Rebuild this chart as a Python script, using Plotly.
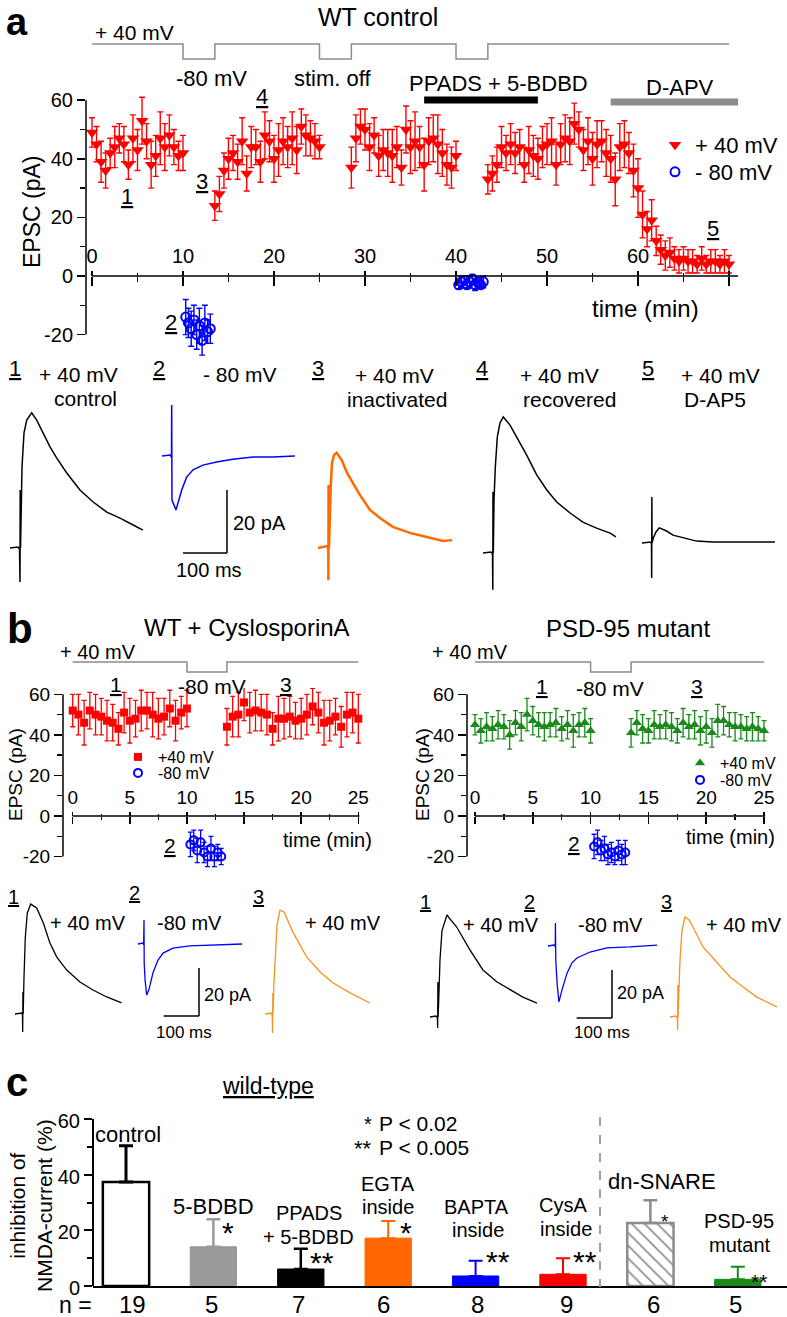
import plotly.graph_objects as go

W, H = 787, 1317
FONT = "Liberation Sans, Arial, Helvetica, sans-serif"


def PX(x):
    return x / W


def PY(y):
    return 1 - y / H


# ====================== DATA ======================
# ---- panel a : WT control, EPSC amplitude (pA) vs time (min) ----
a_pos_t1 = [0, 0.5, 1, 1.5, 2, 2.5, 3, 3.5, 4, 4.5, 5, 5.5, 6, 6.5, 7, 7.5, 8, 8.5, 9, 9.5, 10]
a_pos_v1 = [49, 45, 39, 36, 42, 44, 47, 45, 38, 47, 43, 53, 46, 38, 41, 47, 44, 48, 44, 41, 42]
a_pos_e1 = [5, 6, 7, 6, 5, 7, 5, 6, 5, 8, 7, 8, 6, 8, 7, 9, 8, 7, 6, 5, 6]
a_pos_t2 = [13.5, 14, 14.5, 15, 15.5, 16, 16.5, 17, 17.5, 18, 18.5, 19, 19.5, 20, 20.5, 21, 21.5, 22,
            22.5, 23, 23.5, 24, 24.5, 25]
a_pos_v2 = [24, 28, 36, 40, 42, 39, 46, 35, 44, 44, 39, 48, 46, 40, 43, 46, 44, 47, 43, 51, 48, 47, 46, 44]
a_pos_e2 = [5, 6, 6, 7, 6, 6, 8, 6, 7, 6, 7, 8, 7, 8, 9, 8, 7, 9, 8, 6, 7, 6, 6, 4]
a_pos_t3 = [28.5, 29, 29.5, 30, 30.5, 31, 31.5, 32, 32.5, 33, 33.5, 34, 34.5, 35, 35.5, 36, 36.5, 37,
            37.5, 38, 38.5, 39, 39.5, 40]
a_pos_v3 = [37, 47, 51, 50, 44, 48, 41, 43, 42, 41, 44, 37, 50, 44, 46, 44, 38, 46, 47, 45, 42, 38, 37, 41]
a_pos_e3 = [7, 8, 6, 7, 8, 6, 7, 7, 8, 9, 7, 6, 8, 9, 10, 7, 9, 8, 8, 10, 8, 7, 7, 5]
a_pos_t4 = [43.5, 44, 44.5, 45, 45.5, 46, 46.5, 47, 47.5, 48, 48.5, 49, 49.5, 50, 50.5, 51, 51.5, 52,
            52.5, 53, 53.5, 54, 54.5, 55, 55.5, 56, 56.5, 57, 57.5, 58, 58.5, 59, 59.5, 60, 60.5, 61,
            61.5, 62, 62.5, 63, 63.5, 64, 64.5, 65, 65.5, 66, 66.5, 67, 67.5, 68, 68.5, 69, 69.5, 70]
a_pos_v4 = [33, 35, 38, 44, 42, 45, 42, 44, 38, 43, 41, 40, 44, 45, 46, 38, 45, 47, 46, 52,
            50, 43, 46, 40, 45, 46, 42, 40, 33, 44, 45, 42, 36, 30, 21, 16, 19, 12, 9, 7,
            8, 6, 5, 6, 5, 5, 4, 6, 4, 5, 5, 4, 5, 4]
a_pos_e4 = [5, 6, 6, 7, 6, 7, 7, 6, 6, 8, 7, 7, 7, 7, 8, 7, 7, 8, 8, 7,
            6, 7, 8, 9, 8, 7, 8, 8, 9, 8, 8, 7, 9, 10, 8, 6, 7, 5, 5, 5,
            5, 4, 4, 4, 4, 4, 3, 4, 3, 4, 4, 3, 4, 3]
a_neg_t = [10.3, 10.6, 10.9, 11.2, 11.5, 11.8, 12.1, 12.4, 12.7, 13.0,
           40.3, 40.6, 40.9, 41.2, 41.5, 41.8, 42.1, 42.4, 42.7, 43.0]
a_neg_v = [-14, -16, -18, -15, -20, -17, -22, -16, -19, -18,
           -3, -2, -1.5, -3, -2, -1, -3, -2, -3, -2]
a_neg_e = [6, 5, 6, 5, 5, 6, 5, 6, 4, 5, 1.5, 2, 1.5, 1, 2, 1.5, 2, 1.5, 1, 2]

a_prot_t = [0, 10, 13.5, 25, 28.5, 40, 43.5, 70]      # holding-potential protocol (min)
a_prot_v = [40, -80, 40, -80, 40, -80, 40, 40]        # mV
drug_names = ["PPADS + 5-BDBD", "D-APV"]
drug_start = [36.5, 57.0]
drug_end = [49.0, 71.0]

# example traces, panel a (time in ms, current in pA)
a_tr1_t = [0, 18, 21.6, 22.7, 23.2, 23.9, 27.3, 31.8, 38, 49.3, 60.7, 75.7, 90.9, 106, 129, 159, 189, 220, 250, 280, 302]
a_tr1_v = [0, 0.3, -0.3, -10.8, 18.4, 0, 25.7, 36.5, 40.6, 42.9, 40.6, 36.5, 32.1, 28.6, 23.8, 18.4, 14.6, 11.4, 9.5, 7.3, 5.7]
a_tr2_t = [0, 18.2, 21.6, 22, 22.7, 31.8, 44.8, 56, 70.5, 93, 124, 161, 207, 252, 302]
a_tr2_v = [0, 0.3, -0.3, 16.2, -14, -17.1, -10.8, -6.7, -4.4, -2.9, -1.9, -1, -0.3, -0.3, 0]
a_tr3_t = [0, 20.5, 23.4, 23.6, 24, 25, 28.9, 31.8, 36.4, 42.5, 53.9, 65.2, 79.5, 95.5, 118, 141, 170, 209, 247, 284, 305]
a_tr3_v = [0, 0.6, -0.3, -10.2, 20, 0, 19.4, 27, 29.5, 30.2, 27.9, 24.1, 20.6, 16.8, 12.1, 9.5, 6.7, 4.8, 3.5, 2.2, 2.5]
a_tr4_t = [0, 18.2, 21.6, 22.3, 22.7, 23.4, 25, 28, 32.5, 38.6, 46.1, 61.4, 76.6, 99.3, 122, 145, 167.5, 198, 227, 258, 289, 302]
a_tr4_v = [0, 0.3, -0.3, -11.7, 19.4, 0, 16.8, 27.3, 36.8, 41.3, 43.2, 40.6, 36.8, 31.1, 24.8, 20, 16.2, 12.7, 9.8, 7.9, 6.3, 5.1]
a_tr5_t = [0, 20.5, 21.6, 22, 22.4, 22.8, 25.7, 31.8, 39.3, 56, 70.5, 93, 124, 161, 223, 302]
a_tr5_v = [0, 0.3, -0.3, -11.1, 14.6, 0, 1.6, 3.5, 4.8, 3.8, 2.5, 1.6, 0.6, 0.3, 0.3, 0.3]

# ---- panel b : WT + CyclosporinA (left) and PSD-95 mutant (right) ----
b_t_pre = [0, 0.5, 1, 1.5, 2, 2.5, 3, 3.5, 4, 4.5, 5, 5.5, 6, 6.5, 7, 7.5, 8, 8.5, 9, 9.5, 10]
b_t_post = [13.5, 14, 14.5, 15, 15.5, 16, 16.5, 17, 17.5, 18, 18.5, 19, 19.5, 20, 20.5, 21, 21.5, 22,
            22.5, 23, 23.5, 24, 24.5, 25]
b_t_neg = [10.3, 10.6, 10.9, 11.2, 11.5, 11.8, 12.1, 12.4, 12.7, 13.0]

bL_v_pre = [52, 50, 46, 52, 50, 49, 47, 46, 43, 51, 47, 48, 52, 52, 50, 48, 49, 53, 47, 51, 53]
bL_e_pre = [8, 10, 11, 9, 10, 9, 10, 9, 8, 10, 11, 9, 10, 9, 11, 10, 9, 9, 10, 8, 9]
bL_v_post = [44, 49, 50, 56, 51, 52, 51, 50, 43, 48, 48, 49, 47, 48, 50, 54, 51, 46, 47, 49, 44, 50, 51, 48]
bL_e_post = [9, 10, 11, 9, 10, 10, 9, 10, 8, 11, 10, 10, 9, 10, 10, 9, 10, 11, 10, 9, 10, 11, 10, 12]
bL_v_neg = [-14, -12, -17, -13, -18, -20, -16, -20, -18, -20]
bL_e_neg = [6, 5, 6, 6, 5, 5, 6, 5, 4, 4]

bR_v_pre = [45, 42, 44, 43, 45, 44, 40, 46, 44, 50, 47, 45, 44, 45, 46, 43, 45, 42, 45, 46, 42]
bR_e_pre = [5, 6, 7, 6, 7, 6, 7, 6, 7, 8, 7, 6, 7, 6, 7, 6, 7, 8, 6, 7, 6]
bR_v_post = [41, 46, 43, 42, 45, 44, 45, 44, 42, 46, 44, 45, 42, 44, 41, 47, 47, 45, 44, 44, 43, 44, 43, 42]
bR_e_post = [7, 6, 7, 6, 7, 6, 7, 7, 6, 7, 6, 7, 7, 8, 7, 8, 7, 6, 7, 6, 6, 7, 6, 5]
bR_v_neg = [-15, -13, -17, -16, -19, -18, -20, -17, -19, -18]
bR_e_neg = [6, 6, 5, 6, 5, 5, 4, 5, 5, 6]

b_prot_t = [0, 10, 13.5, 25]
b_prot_v = [40, -80, 40, 40]

bL_tr1_t = [0, 19, 21.2, 21.8, 22.4, 23.2, 25.5, 29.2, 34.8, 44.5, 61.5, 80.2, 99, 118, 146.5, 184, 221, 260, 302]
bL_tr1_v = [0, 0.4, -0.4, -7.5, 9.2, 0, 15.4, 32, 42, 45.8, 44.2, 37.9, 29.6, 23.8, 18.3, 13.3, 10, 7.1, 4.6]
bL_tr2_t = [0, 14, 16, 17, 17.6, 20, 24.6, 31, 42.5, 56.7, 71, 99, 147, 224, 295]
bL_tr2_v = [0, 0.4, -0.3, 10, -8, -15, -21.3, -19, -12, -6.7, -3.8, -1.7, -0.8, -0.4, 0]
bL_tr3_t = [0, 17, 20.5, 21.5, 22.2, 23, 25, 28.3, 34, 42.5, 54, 80, 118, 156, 193, 241, 297]
bL_tr3_v = [0, 0.4, -0.8, -7.9, 8.8, 0, 12, 22.5, 37, 43.3, 42.5, 33.8, 23.8, 17.5, 12.9, 8.8, 4.6]
bR_tr1_t = [0, 17, 21, 21.7, 22.3, 23, 25, 28.3, 34, 48, 59.5, 75.6, 113, 150, 190, 227, 263, 303]
bR_tr1_v = [0, 0.4, -0.4, -4.6, 14.6, 0, 8, 23.8, 36, 42.5, 40.4, 37.5, 28, 19.6, 14.6, 11.3, 8.3, 5.8]
bR_tr2_t = [0, 17, 20.5, 21, 22, 26, 31, 39.7, 54, 68, 82, 119, 167, 232, 309]
bR_tr2_v = [0, 0.4, -0.3, 9.6, -5.8, -16, -23.3, -18.3, -11.3, -7, -5, -2.5, -0.8, -0.4, 0.4]
bR_tr3_t = [0, 17, 21, 21.7, 22.3, 23, 25, 28.3, 34, 42.5, 54, 65, 93.5, 133, 170, 207, 246, 303]
bR_tr3_v = [0, 0.4, -0.8, -5.4, 13.3, 0, 10, 23.8, 36, 41.7, 40.4, 37.5, 29.2, 22.5, 16.7, 12.5, 8.3, 4.2]

SCALE_MS = 100
SCALE_PA = 20

# ---- panel c : inhibition of NMDA current (%) ----
c_cats = ["control", "5-BDBD", "PPADS + 5-BDBD", "EGTA inside", "BAPTA inside", "CysA inside",
          "dn-SNARE", "PSD-95 mutant"]
c_mean = [37.4, 14.1, 6.1, 17.2, 3.6, 4.2, 22.6, 2.4]
c_sem = [13.0, 9.9, 7.3, 6.2, 5.5, 5.8, 8.2, 4.5]
c_n = [19, 5, 7, 6, 8, 9, 6, 5]
c_sig = ["", "*", "**", "*", "**", "**", "*", "**"]

# ====================== FIGURE ======================
RED, BLUE, GREEN = "#ff0000", "#0000ff", "#1a8a1a"
ORANGE_A, ORANGE_B = "#ff6a00", "#f7941d"

fig = go.Figure()
LAY = {}
ANN = []
SHP = []


def txt(s, x, y, size, angle=0, xanchor="center", **kw):
    d = dict(text=s, x=PX(x), y=PY(y), xref="paper", yref="paper", showarrow=False,
             font=dict(size=size, family=FONT, color="black"), xanchor=xanchor,
             yanchor="middle", textangle=angle)
    d.update(kw)
    ANN.append(d)


def seg(x0, y0, x1, y1, xref, yref, color="black", width=1.5, dash="solid"):
    SHP.append(dict(type="line", x0=x0, y0=y0, x1=x1, y1=y1, xref=xref, yref=yref,
                    line=dict(color=color, width=width, dash=dash)))


AX = dict(showgrid=False, zeroline=False, showline=False, color="black")


def time_axes(xid, yid, pid, ovid, dom_l, dom_r, x0px, sx, y_top, y_bot, y0px, sy,
              p_top, p_bot, p_hi_px, p_lo_px, major, minor, tick_font, len_up, len_dn):
    LAY["xaxis" + xid] = dict(AX, domain=[PX(dom_l), PX(dom_r)],
                              range=[(dom_l - x0px) / sx, (dom_r - x0px) / sx],
                              anchor="free", position=PY(y0px), side="top",
                              ticks="outside", ticklen=len_up, tickwidth=1.5, tickcolor="black",
                              tickmode="array", tickvals=major[0], ticktext=major[1],
                              minor=dict(tickmode="array", tickvals=minor, ticks="outside",
                                         ticklen=max(2, len_up - 2), tickwidth=1.5, tickcolor="black"),
                              tickfont=dict(size=tick_font, family=FONT, color="black"))
    LAY["xaxis" + ovid] = dict(AX, overlaying="x" + xid,
                               range=[(dom_l - x0px) / sx, (dom_r - x0px) / sx],
                               anchor="free", position=PY(y0px), side="bottom",
                               ticks="outside", ticklen=len_dn, tickwidth=1.5, tickcolor="black",
                               tickmode="array", tickvals=major[0], showticklabels=False,
                               minor=dict(tickmode="array", tickvals=minor, ticks="outside",
                                          ticklen=max(2, len_dn - 4), tickwidth=1.5, tickcolor="black"))
    LAY["yaxis" + yid] = dict(AX, domain=[PY(y_bot), PY(y_top)],
                              range=[(y0px - y_bot) / sy, (y0px - y_top) / sy],
                              anchor="x" + xid, ticks="outside", ticklen=8, tickwidth=1.5,
                              tickcolor="black", tickmode="array",
                              tickvals=[-20, 0, 20, 40, 60], ticktext=["-20", "0", "20", "40", "60"],
                              minor=dict(tickmode="array", tickvals=[-10, 10, 30, 50], ticks="outside",
                                         ticklen=5, tickwidth=1.5, tickcolor="black"),
                              tickfont=dict(size=tick_font, family=FONT, color="black"))
    ps = (p_lo_px - p_hi_px) / 120.0
    LAY["yaxis" + pid] = dict(AX, domain=[PY(p_bot), PY(p_top)],
                              range=[-80 - (p_bot - p_lo_px) / ps, 40 + (p_hi_px - p_top) / ps],
                              anchor="x" + xid, visible=False)
    fig.add_trace(go.Scatter(x=[], y=[], xaxis="x" + ovid, yaxis="y" + yid,
                             showlegend=False, hoverinfo="skip"))


# ---------- panel a time course ----------
time_axes("", "", "2", "8", 86, 745, 92, 9.1, 90, 360, 276, 2.93,
          40, 64, 44, 59,
          ([0, 10, 20, 30, 40, 50, 60, 70], ["0", "10", "20", "30", "40", "50", "60", ""]),
          [5, 15, 25, 35, 45, 55, 65], 20, 5, 9)
fig.add_trace(go.Scatter(x=a_prot_t, y=a_prot_v, mode="lines", line=dict(color="#8c8c8c", width=1.5, shape="hv"),
                         xaxis="x", yaxis="y2", showlegend=False, hoverinfo="skip"))
fig.add_trace(go.Scatter(x=a_pos_t1 + a_pos_t2 + a_pos_t3 + a_pos_t4,
                         y=a_pos_v1 + a_pos_v2 + a_pos_v3 + a_pos_v4, mode="markers", name="+ 40 mV",
                         marker=dict(symbol="triangle-down", size=11, color=RED),
                         error_y=dict(type="data", array=a_pos_e1 + a_pos_e2 + a_pos_e3 + a_pos_e4,
                                      color=RED, thickness=1.4, width=3),
                         xaxis="x", yaxis="y", legend="legend", hoverinfo="skip"))
fig.add_trace(go.Scatter(x=a_neg_t, y=a_neg_v, mode="markers", name="- 80 mV",
                         marker=dict(symbol="circle-open", size=9, color=BLUE, line=dict(width=2, color=BLUE)),
                         error_y=dict(type="data", array=a_neg_e, color=BLUE, thickness=1.4, width=3),
                         xaxis="x", yaxis="y", legend="legend2", hoverinfo="skip"))
seg(0, 0, 71, 0, "x", "y")
seg(0, -20, 0, 60, "x domain", "y")
for name, t0, t1, ypx, col in zip(drug_names, drug_start, drug_end, [100, 102], ["black", "#8c8c8c"]):
    seg(t0, PY(ypx), t1, PY(ypx), "x", "paper", color=col, width=7)

txt("<b>a</b>", 17, 22, 38)
txt("WT control", 378, 17, 25)
txt("+ 40 mV", 134, 33, 21)
txt("-80 mV", 211, 78, 22)
txt("stim. off", 333, 78, 22)
txt(drug_names[0], 498, 83, 22)
txt(drug_names[1], 680, 87, 22)
txt("time (min)", 645, 308, 24)
txt("EPSC (pA)", 32, 212, 23, angle=-90)
txt("<u>1</u>", 127, 196, 22)
txt("<u>3</u>", 202, 181, 22)
txt("<u>4</u>", 262, 97, 22)
txt("<u>2</u>", 171, 322, 22)
txt("<u>5</u>", 713, 228, 22)

# ---------- panel b time courses ----------
b_major = ([0, 5, 10, 15, 20, 25], ["0", "5", "10", "15", "20", "25"])
b_minor = [2.5, 7.5, 12.5, 17.5, 22.5]
time_axes("3", "3", "4", "9", 63, 372, 72.7, 11.424, 688, 874, 816, 2.028,
          655, 680, 662, 672, b_major, b_minor, 19, 4, 7)
time_axes("5", "5", "6", "10", 467, 782, 475, 11.56, 688, 874, 816, 2.028,
          655, 680, 662, 672, b_major, b_minor, 19, 4, 7)

for xa, ya, pa, legs, vpre, epre, vpost, epost, vneg, eneg, sym, col, sz in [
        ("x3", "y3", "y4", ("legend3", "legend4"), bL_v_pre, bL_e_pre, bL_v_post, bL_e_post,
         bL_v_neg, bL_e_neg, "square", RED, 8),
        ("x5", "y5", "y6", ("legend5", "legend6"), bR_v_pre, bR_e_pre, bR_v_post, bR_e_post,
         bR_v_neg, bR_e_neg, "triangle-up", GREEN, 9)]:
    fig.add_trace(go.Scatter(x=b_prot_t, y=b_prot_v, mode="lines",
                             line=dict(color="#8c8c8c", width=1.5, shape="hv"),
                             xaxis=xa, yaxis=pa, showlegend=False, hoverinfo="skip"))
    fig.add_trace(go.Scatter(x=b_t_pre + b_t_post, y=vpre + vpost, mode="markers", name="+40 mV",
                             marker=dict(symbol=sym, size=sz, color=col),
                             error_y=dict(type="data", array=epre + epost, color=col, thickness=1.3, width=2.5),
                             xaxis=xa, yaxis=ya, legend=legs[0], hoverinfo="skip"))
    fig.add_trace(go.Scatter(x=b_t_neg, y=vneg, mode="markers", name="-80 mV",
                             marker=dict(symbol="circle-open", size=8, color=BLUE, line=dict(width=2, color=BLUE)),
                             error_y=dict(type="data", array=eneg, color=BLUE, thickness=1.3, width=2.5),
                             xaxis=xa, yaxis=ya, legend=legs[1], hoverinfo="skip"))
    seg(0, 0, 25.1, 0, xa, ya)
    seg(0, -20, 0, 60, xa + " domain", ya)

txt("<b>b</b>", 20, 628, 42)
txt("WT + CyslosporinA", 247, 627, 24)
txt("+ 40 mV", 98, 652, 20)
txt("<u>1</u>", 116, 684, 21)
txt("-80 mV", 212, 686, 21)
txt("<u>3</u>", 286, 684, 21)
txt("EPSC (pA)", 15, 775, 19, angle=-90)
txt("time (min)", 327, 840, 20)
txt("<u>2</u>", 170, 845, 21)
txt("PSD-95 mutant", 628, 628, 24)
txt("+ 40 mV", 470, 652, 20)
txt("<u>1</u>", 542, 686, 21)
txt("-80 mV", 610, 688, 21)
txt("<u>3</u>", 697, 686, 21)
txt("EPSC (pA)", 422, 775, 19, angle=-90)
txt("time (min)", 730, 837, 20)
txt("<u>2</u>", 574, 843, 21)

# ---------- example current traces ----------
axis_counter = [11]


def wave(t, v, x0, y0, sx, sy, color, width):
    n = axis_counter[0]
    axis_counter[0] += 1
    wpx = min(150, W - x0)
    LAY["xaxis%d" % n] = dict(AX, domain=[PX(x0 - 4), PX(x0 + wpx)], range=[-4 / sx, wpx / sx],
                              anchor="y%d" % n, visible=False)
    LAY["yaxis%d" % n] = dict(AX, domain=[PY(y0 + 110), PY(y0 - 150)], range=[-110 / sy, 150 / sy],
                              anchor="x%d" % n, visible=False)
    fig.add_trace(go.Scatter(x=t, y=v, mode="lines", line=dict(color=color, width=width),
                             xaxis="x%d" % n, yaxis="y%d" % n, showlegend=False, hoverinfo="skip"))
    return n


SXA, SYA = 0.44, 3.15
wave(a_tr1_t, a_tr1_v, 10, 548, SXA, SYA, "black", 1.5)
na2 = wave(a_tr2_t, a_tr2_v, 162, 456, SXA, SYA, BLUE, 1.5)
wave(a_tr3_t, a_tr3_v, 318, 548, SXA, SYA, ORANGE_A, 2.5)
wave(a_tr4_t, a_tr4_v, 483, 553, SXA, SYA, "black", 1.5)
wave(a_tr5_t, a_tr5_v, 642, 543, SXA, SYA, "black", 1.5)

SXB, SYB = 0.353, 2.4
wave(bL_tr1_t, bL_tr1_v, 15, 1014, SXB, SYB, "black", 1.3)
nb2 = wave(bL_tr2_t, bL_tr2_v, 138, 944, SXB, SYB, BLUE, 1.3)
wave(bL_tr3_t, bL_tr3_v, 265, 1014, SXB, SYB, ORANGE_B, 1.3)
wave(bR_tr1_t, bR_tr1_v, 430, 1017, SXB, SYB, "black", 1.3)
nc2 = wave(bR_tr2_t, bR_tr2_v, 548, 946, SXB, SYB, BLUE, 1.3)
wave(bR_tr3_t, bR_tr3_v, 670, 1017, SXB, SYB, ORANGE_B, 1.3)

# scale bars (bottom-right corner given in the blue trace's own ms / pA units)
for n, cx, cy in [(na2, 147.7, -30.8), (nb2, 172.8, -30.0), (nc2, 181.3, -30.0)]:
    seg(cx - SCALE_MS, cy, cx, cy, "x%d" % n, "y%d" % n, width=1.5)
    seg(cx, cy, cx, cy + SCALE_PA, "x%d" % n, "y%d" % n, width=1.5)

txt("<u>1</u>", 15, 368, 22)
txt("+ 40 mV", 78, 374, 21)
txt("control", 85, 398, 21)
txt("<u>2</u>", 159, 368, 22)
txt("- 80 mV", 240, 374, 21)
txt("<u>3</u>", 318, 368, 22)
txt("+ 40 mV", 394, 375, 21)
txt("inactivated", 397, 399, 21)
txt("<u>4</u>", 482, 368, 22)
txt("+ 40 mV", 559, 375, 21)
txt("recovered", 569, 399, 21)
txt("<u>5</u>", 648, 368, 22)
txt("+ 40 mV", 720, 375, 21)
txt("D-AP5", 715, 399, 21)
txt("%d pA" % SCALE_PA, 259, 523, 20)
txt("%d ms" % SCALE_MS, 209, 570, 20)

txt("<u>1</u>", 13, 897, 20)
txt("+ 40 mV", 88, 923, 20)
txt("<u>2</u>", 134, 893, 20)
txt("-80 mV", 189, 923, 20)
txt("<u>3</u>", 258, 897, 20)
txt("+ 40 mV", 343, 923, 20)
txt("%d pA" % SCALE_PA, 227, 995, 18)
txt("%d ms" % SCALE_MS, 184, 1032, 17)
txt("<u>1</u>", 425, 902, 20)
txt("+ 40 mV", 501, 925, 20)
txt("<u>2</u>", 529, 902, 20)
txt("-80 mV", 610, 925, 20)
txt("<u>3</u>", 666, 902, 20)
txt("+ 40 mV", 744, 925, 20)
txt("%d pA" % SCALE_PA, 640, 993, 18)
txt("%d ms" % SCALE_MS, 602, 1032, 17)

# ---------- panel c bar chart ----------
C_X0, C_STEP = 126.0, 87.4     # pixel centre of the first category, category spacing
LAY["xaxis7"] = dict(AX, domain=[PX(93), PX(787)], type="category", categoryorder="array",
                     categoryarray=c_cats, range=[(93 - C_X0) / C_STEP, (787 - C_X0) / C_STEP],
                     anchor="y7", showline=True, linewidth=2, linecolor="black", ticks="",
                     showticklabels=False)
LAY["yaxis7"] = dict(AX, domain=[PY(1286), PY(1105)], range=[0, (1286 - 1105) / 2.783], anchor="x7",
                     ticks="outside", ticklen=8, tickwidth=2, tickcolor="black", tickmode="array",
                     tickvals=[0, 20, 40, 60], ticktext=["0", "20", "40", "60"], ticklabelshift=2,
                     minor=dict(tickmode="array", tickvals=[10, 30, 50], ticks="outside", ticklen=5,
                                tickwidth=2, tickcolor="black"),
                     tickfont=dict(size=20, family=FONT, color="black"))
seg(0, 0, 0, 60, "x7 domain", "y7", width=2)

bar_fill = ["white", "#999999", "#000000", "#ff6600", "#0000ff", "#ff0000", "white", GREEN]
bar_line = ["black", "#999999", "#000000", "#ff6600", "#0000ff", "#ff0000", "#8c8c8c", GREEN]
bar_lw = [2.5, 1, 1, 1, 1, 1, 2.5, 1]
err_col = ["black", "#999999", "black", "#ff6600", "#0000ff", "#ff0000", "#8c8c8c", GREEN]
err_th = [3, 2.5, 2.5, 2, 2, 2, 2.5, 2]
for i, cat in enumerate(c_cats):
    marker = dict(color=bar_fill[i], line=dict(color=bar_line[i], width=bar_lw[i]))
    if cat == "dn-SNARE":
        marker["pattern"] = dict(shape="\\", fgcolor="#8c8c8c", size=9, solidity=0.18)
    fig.add_trace(go.Bar(x=[cat], y=[c_mean[i]], width=0.53, marker=marker,
                         error_y=dict(type="data", array=[c_sem[i]], arrayminus=[0], symmetric=False,
                                      color=err_col[i], thickness=err_th[i], width=7),
                         xaxis="x7", yaxis="y7", showlegend=False, hoverinfo="skip"))

bar_labels = [
    [("control", 1134, 2, 22)],
    [("5-BDBD", 1206, 0, 22)],
    [("PPADS", 1213, 8, 20), ("+ 5-BDBD", 1237, 8, 20)],
    [("EGTA", 1184, 0, 20), ("inside", 1207, 0, 20)],
    [("BAPTA", 1207, 1, 20), ("inside", 1230, 2, 20)],
    [("CysA", 1205, 0, 20), ("inside", 1229, 3, 20)],
    [("dn-SNARE", 1181, 12, 22)],
    [("PSD-95", 1221, 1, 20), ("mutant", 1245, 2, 20)],
]
star_pos = [None, (15, 1232, 30), (21, 1262, 30), (18, 1232, 30), (22, 1261, 30), (22, 1261, 30),
            (15, 1221, 19), (21, 1281, 21)]
n_shift = [6, -2, -2, -5, 2, 3, 3, -2]
for i, cat in enumerate(c_cats):
    for s, ypx, dx, fs in bar_labels[i]:
        ANN.append(dict(text=s, x=cat, xref="x7", y=PY(ypx), yref="paper", xshift=dx, showarrow=False,
                        font=dict(size=fs, family=FONT, color="black"), xanchor="center", yanchor="middle"))
    if c_sig[i]:
        dx, ypx, fs = star_pos[i]
        ANN.append(dict(text=c_sig[i], x=cat, xref="x7", y=PY(ypx), yref="paper", xshift=dx, showarrow=False,
                        font=dict(size=fs, family=FONT, color="black"), xanchor="center", yanchor="middle"))
    ANN.append(dict(text=str(c_n[i]), x=cat, xref="x7", y=PY(1304), yref="paper", xshift=n_shift[i],
                    showarrow=False, font=dict(size=24, family=FONT, color="black"),
                    xanchor="center", yanchor="middle"))

seg(PX(600), PY(1117), PX(600), PY(1287), "paper", "paper", color="#a0a0a0", width=2, dash="dash")
txt("<b>c</b>", 17, 1082, 40)
txt("<u>wild-type</u>", 268, 1086, 23)
txt("*", 374, 1124, 20, xanchor="right")
txt("P < 0.02", 377, 1123, 21, xanchor="left")
txt("**", 374, 1148, 22, xanchor="right")
txt("P < 0.005", 377, 1147, 21, xanchor="left")
txt("n =", 75, 1305, 23)
txt("inhibition of<br>NMDA-current (%)", 31, 1206, 21, angle=-90)

# ---------- layout ----------
LEG = dict(xanchor="left", yanchor="middle", bgcolor="rgba(0,0,0,0)", borderwidth=0,
           itemwidth=30, tracegroupgap=0, itemclick=False, itemdoubleclick=False)
fig.update_layout(
    width=W, height=H, autosize=False, margin=dict(l=0, r=0, t=0, b=0),
    paper_bgcolor="white", plot_bgcolor="rgba(0,0,0,0)", template="none",
    font=dict(family=FONT, color="black"), hovermode=False, barmode="overlay",
    showlegend=True,
    legend=dict(LEG, x=PX(655), y=PY(145), font=dict(size=22, family=FONT, color="black")),
    legend2=dict(LEG, x=PX(655), y=PY(172), font=dict(size=22, family=FONT, color="black")),
    legend3=dict(LEG, x=PX(118), y=PY(757), font=dict(size=16, family=FONT, color="black")),
    legend4=dict(LEG, x=PX(118), y=PY(773), font=dict(size=16, family=FONT, color="black")),
    legend5=dict(LEG, x=PX(680), y=PY(763), font=dict(size=16, family=FONT, color="black")),
    legend6=dict(LEG, x=PX(680), y=PY(780), font=dict(size=16, family=FONT, color="black")),
    annotations=ANN, shapes=SHP, **LAY)

fig.write_html("out.html", config={"displayModeBar": False, "staticPlot": True},
               post_script="document.body.style.margin='0px';"
                           "document.documentElement.style.margin='0px';")
